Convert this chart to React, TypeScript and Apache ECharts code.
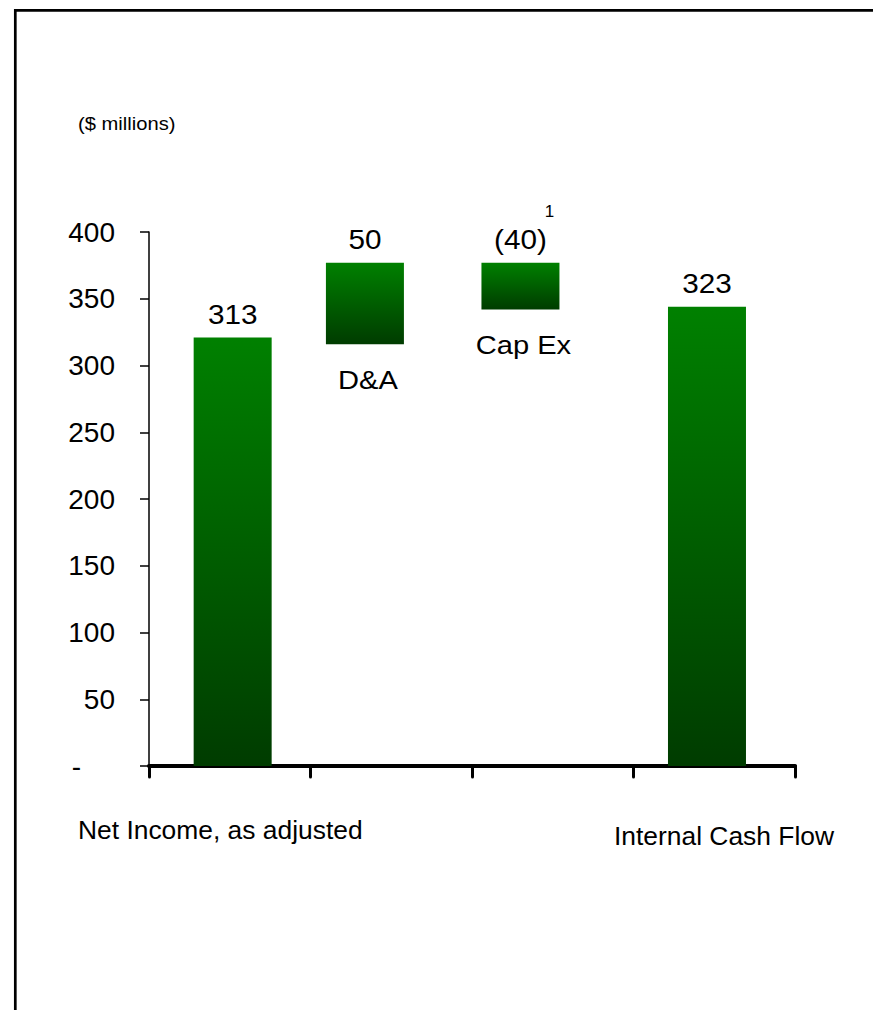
import React, { useEffect, useRef } from "react";
import * as echarts from "echarts";

// Floating-bar (waterfall) data
const barNames = ["Net Income, as adjusted", "D&A", "Cap Ex", "Internal Cash Flow"];
const barCenters = [0.518, 1.337, 2.3, 3.455]; // position on the 0..4 x scale
const barLows = [0, 316, 342, 0];
const barHighs = [321, 377, 377, 344];
const valueLabels = ["313", "50", "(40)", "323"];
const footnotes = ["", "", "1", ""];
const innerLabels = ["", "D&A", "Cap Ex", ""];
const yTicks = [0, 50, 100, 150, 200, 250, 300, 350, 400];

const FONT = "Liberation Sans, Arial, sans-serif";

export default function App() {
  const ref = useRef<HTMLDivElement>(null);
  useEffect(() => {
    document.body.style.margin = "0";
    const chart = echarts.init(ref.current!, null, { renderer: "svg" });
    const data = barCenters.map((c, i) => [c, barLows[i], barHighs[i]]);
    chart.setOption({
      animation: false,
      backgroundColor: "#fff",
      grid: { left: 149, right: 78, top: 232, bottom: 244 },
      xAxis: {
        type: "value",
        min: 0,
        max: 4,
        interval: 1,
        axisLine: { show: true, lineStyle: { color: "#000", width: 4, cap: "round" } },
        axisTick: { show: true, length: 11, lineStyle: { color: "#000", width: 3, cap: "round" } },
        axisLabel: { show: false },
        splitLine: { show: false },
      },
      yAxis: {
        type: "value",
        min: yTicks[0],
        max: yTicks[yTicks.length - 1],
        interval: 50,
        axisLine: { show: true, lineStyle: { color: "#000", width: 1.5 } },
        axisTick: { show: true, length: 9, lineStyle: { color: "#000", width: 1.5 } },
        axisLabel: {
          color: "#000",
          fontSize: 28,
          fontFamily: FONT,
          margin: 34,
          formatter: (v: number) => (v === 0 ? "{d|-}" : String(v)),
          rich: { d: { fontSize: 28, fontFamily: FONT, color: "#000", padding: [0, 34, 0, 0] } },
        },
        splitLine: { show: false },
      },
      series: [
        {
          type: "custom",
          data,
          renderItem: (params: any, api: any) => {
            const i = params.dataIndex;
            const x = api.value(0);
            const top = api.coord([x, api.value(2)]);
            const bot = api.coord([x, api.value(1)]);
            const w = 78;
            const children: any[] = [
              {
                type: "rect",
                shape: { x: top[0] - w / 2, y: top[1], width: w, height: bot[1] - top[1] },
                style: {
                  fill: new echarts.graphic.LinearGradient(0, 0, 0, 1, [
                    { offset: 0, color: "#008000" },
                    { offset: 1, color: "#003c00" },
                  ]),
                },
              },
              {
                type: "text",
                x: top[0],
                y: top[1] - 23,
                scaleX: 1.1,
                style: {
                  text: valueLabels[i],
                  fill: "#000",
                  fontSize: 27,
                  fontFamily: FONT,
                  align: "center",
                  verticalAlign: "middle",
                },
              },
            ];
            if (footnotes[i]) {
              children.push({
                type: "text",
                x: top[0] + 29,
                y: top[1] - 51,
                style: {
                  text: footnotes[i],
                  fill: "#000",
                  fontSize: 17,
                  fontFamily: FONT,
                  align: "center",
                  verticalAlign: "middle",
                },
              });
            }
            if (innerLabels[i]) {
              children.push({
                type: "text",
                x: top[0] + 3,
                y: bot[1] + 36,
                scaleX: 1.12,
                style: {
                  text: innerLabels[i],
                  fill: "#000",
                  fontSize: 26,
                  fontFamily: FONT,
                  align: "center",
                  verticalAlign: "middle",
                },
              });
            }
            return { type: "group", children };
          },
        },
      ],
      graphic: [
        {
          type: "rect",
          shape: { x: 15.3, y: 10.3, width: 1000, height: 1100 },
          style: { fill: "none", stroke: "#000", lineWidth: 2.7 },
        },
        {
          type: "text",
          x: 78,
          y: 124,
          scaleX: 1.12,
          style: { text: "($ millions)", fill: "#000", fontSize: 18, fontFamily: FONT, verticalAlign: "middle" },
        },
        {
          type: "text",
          x: 78,
          y: 830,
          style: { text: barNames[0], fill: "#000", fontSize: 26.4, fontFamily: FONT, verticalAlign: "middle" },
        },
        {
          type: "text",
          x: 614,
          y: 836,
          style: { text: barNames[3], fill: "#000", fontSize: 26.4, fontFamily: FONT, verticalAlign: "middle" },
        },
      ],
    });
    return () => chart.dispose();
  }, []);
  return <div ref={ref} style={{ width: 873, height: 1010 }} />;
}
